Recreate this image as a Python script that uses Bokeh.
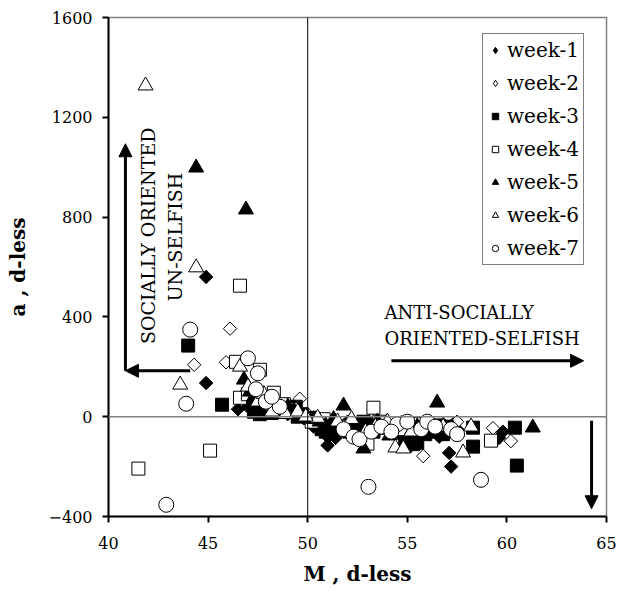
import math
from bokeh.plotting import figure
from bokeh.models import Range1d, Span, Arrow, NormalHead, Label, Legend, LegendItem, FixedTicker
from bokeh.embed import file_html
from bokeh.resources import INLINE

# ---- data ----
w1_x = [44.9, 44.9, 46.5, 47.3, 47.6, 48.2, 48.8, 49.2, 49.6, 50.2, 50.6, 51.0, 51.0, 51.5, 52.2, 52.8, 53.5, 54.3, 55.0, 56.0, 56.8, 57.1, 57.2, 57.3, 57.0, 59.6, 59.8,
        47.0, 47.4, 47.8, 48.0, 48.4, 48.6, 49.0, 49.4, 49.8, 50.0, 50.4, 50.8, 51.2, 51.6, 52.0, 52.5, 53.0, 53.8, 54.6, 55.3, 55.6, 56.3, 56.6, 57.5,
        47.2, 47.7, 48.3, 49.1, 50.3, 51.4]
w1_y = [560, 135, 30, 60, 20, 40, 25, 15, 5, -10, -25, -115, -80, -30, -40, -60, -45, -50, -40, -60, -30, -145, -200, -30, -70, -85, -60,
        40, 35, 55, 30, 20, 50, 10, 30, -5, 0, -20, -40, -60, -50, -20, -30, -50, -30, -70, -30, -60, -40, -80, -50,
        85, 75, 60, 45, -40, -85]

w2_x = [44.3, 45.9, 46.1, 49.6, 47.8, 48.5, 49.0, 50.5, 51.3, 52.0, 52.7, 53.5, 54.0, 55.8, 56.5, 59.3, 60.2, 57.5, 48.0, 50.0, 53.0, 54.8]
w2_y = [208, 218, 353, 72, 60, 40, 30, -10, -20, -30, -20, -40, -30, -158, -40, -46, -98, -20, 80, 10, -50, -60]

w3_x = [44.0, 45.7, 47.3, 47.6, 48.5, 49.0, 49.5, 50.3, 50.8, 50.9, 51.8, 52.5, 53.0, 54.9, 55.3, 55.5, 56.2, 56.8, 58.3, 58.3, 60.4, 60.5, 55.8, 56.5,
        47.2, 47.5, 47.9, 48.2, 48.7, 49.2, 49.7, 50.1, 50.5, 51.1, 51.4, 52.1, 52.8, 53.3, 53.7, 54.5, 55.0, 55.9, 56.4, 57.0,
        47.4, 48.0, 49.4, 50.7]
w3_y = [285, 48, 20, 10, 30, 20, 0, -15, -30, -60, -40, -50, -30, -116, -110, -104, -60, -70, -44, -120, -44, -196, -40, -50,
        50, 40, 25, 15, 45, 35, 10, -5, -30, -20, -55, -60, -20, -60, -45, -40, -80, -70, -35, -40,
        70, 60, 40, -50]

w4_x = [41.5, 45.1, 46.6, 46.4, 47.6, 48.3, 46.6, 47.8, 49.2, 50.8, 52.0, 53.3, 53.0, 53.6, 54.3, 55.5, 59.2, 47.0, 48.8, 50.2, 52.6, 54.8]
w4_y = [-208, -136, 525, 220, 188, 96, 76, 40, 30, -10, -40, 36, -108, -20, -40, -30, -96, 90, 50, -20, -60, -50]

w5_x = [44.4, 46.9, 46.8, 47.3, 47.8, 48.5, 49.0, 49.5, 50.0, 50.6, 51.0, 51.8, 52.3, 52.8, 53.5, 54.1, 55.5, 56.5, 57.0, 61.3,
        47.1, 47.6, 48.0, 48.3, 48.8, 49.3, 49.8, 50.3, 50.9, 51.3, 52.0, 52.6, 53.2, 53.9, 54.7, 55.2, 56.0, 56.9]
w5_y = [998, 830, 148, 80, 50, 20, 40, 10, -5, -20, -50, 44, -30, -128, -20, -76, -40, 56, -60, -44,
        100, 30, 70, 40, 15, 25, 0, -10, -35, -10, -50, -40, -50, -40, -30, -60, -30, -45]

w6_x = [41.86, 44.4, 43.6, 46.6, 47.0, 47.5, 48.2, 48.9, 49.5, 50.5, 51.5, 52.2, 53.4, 54.0, 54.4, 54.8, 55.6, 57.8, 58.2, 47.8, 49.9, 52.9, 55.2, 56.8]
w6_y = [1327, 598, 128, 200, 120, 60, 20, 10, 20, -5, -20, -10, -40, -20, -124, -128, -50, -144, -40, 90, 0, -60, -60, -40]

w7_x = [44.1, 43.9, 42.9, 47.0, 47.5, 47.4, 47.9, 48.6, 51.8, 52.3, 52.6, 53.05, 53.2, 54.5, 55.0, 55.7, 56.0, 56.4, 57.2, 57.5, 58.7,
        48.2, 53.7, 54.2]
w7_y = [349, 52, -353, 234, 174, 110, 60, 40, -50, -80, -90, -281, -60, -30, -20, -50, -20, -40, -50, -70, -253,
        80, -40, -60]

series_names = ["week-1", "week-2", "week-3", "week-4", "week-5", "week-6", "week-7"]
x_ticks = [40, 45, 50, 55, 60, 65]
y_ticks = [-400, 0, 400, 800, 1200, 1600]

FONT = "DejaVu Serif"

p = figure(width=618, height=594, output_backend="svg", toolbar_location=None,
           x_range=Range1d(40, 65), y_range=Range1d(-400, 1600),
           min_border_left=108, min_border_right=12, min_border_top=17, min_border_bottom=78)
p.grid.visible = False
p.outline_line_color = "#808080"
p.outline_line_width = 1.5
p.background_fill_color = "white"
p.border_fill_color = "white"

for ax in (p.xaxis[0], p.yaxis[0]):
    ax.axis_line_width = 2
    ax.axis_line_color = "black"
    ax.major_tick_out = 6
    ax.major_tick_in = 0
    ax.major_tick_line_width = 2
    ax.minor_tick_out = 0
    ax.minor_tick_in = 0
    ax.major_label_text_font = FONT
    ax.major_label_text_font_size = "16px"
    ax.major_label_text_color = "black"
    ax.axis_label_text_font = FONT
    ax.axis_label_text_font_size = "20px"
    ax.axis_label_text_font_style = "bold"
    ax.axis_label_text_color = "black"

p.xaxis[0].ticker = FixedTicker(ticks=x_ticks)
p.yaxis[0].ticker = FixedTicker(ticks=y_ticks)
p.xaxis[0].major_label_standoff = 14
p.yaxis[0].major_label_standoff = 10
p.xaxis[0].axis_label = "M , d-less"
p.yaxis[0].axis_label = "a , d-less"
p.xaxis[0].axis_label_standoff = 10
p.yaxis[0].axis_label_standoff = 16

# reference lines
p.add_layout(Span(location=0, dimension="width", line_color="#808080", line_width=1.5))
p.add_layout(Span(location=50, dimension="height", line_color="black", line_width=1))

renderers = []
legend_renderers = []
specs = [
    (w1_x, w1_y, "square", 9.5, "black", math.pi / 4, "diamond"),
    (w2_x, w2_y, "square", 9.5, "white", math.pi / 4, "diamond"),
    (w3_x, w3_y, "square", 13, "black", 0.0, None),
    (w4_x, w4_y, "square", 13, "white", 0.0, None),
    (w5_x, w5_y, "triangle", 15, "black", 0.0, None),
    (w6_x, w6_y, "triangle", 15, "white", 0.0, None),
    (w7_x, w7_y, "circle", 15, "white", 0.0, None),
]
for xs, ys, marker, size, fill, ang, legend_marker in specs:
    r = p.scatter(xs, ys, marker=marker, size=size, fill_color=fill, angle=ang,
                  line_color="black", line_width=1)
    renderers.append(r)
    if legend_marker is not None:
        # legend swatch only (placed outside the visible range)
        lr = p.scatter([1000], [10000], marker=legend_marker, size=15, fill_color=fill,
                       line_color="black", line_width=1)
        legend_renderers.append(lr)
    else:
        legend_renderers.append(r)

legend = Legend(items=[LegendItem(label=n, renderers=[r]) for n, r in zip(series_names, legend_renderers)],
                location=(374, 251))
legend.label_text_font = FONT
legend.label_text_font_size = "20px"
legend.label_text_color = "black"
legend.border_line_color = "black"
legend.border_line_width = 1
legend.background_fill_color = "white"
legend.background_fill_alpha = 1
legend.padding = 4
legend.spacing = 9
legend.glyph_width = 16
legend.glyph_height = 24
legend.label_height = 24
legend.label_standoff = 4
legend.margin = 0
p.add_layout(legend)

# arrows
def arrow(x0, y0, x1, y1):
    p.add_layout(Arrow(end=NormalHead(size=13, fill_color="black", line_color="black"),
                       x_start=x0, y_start=y0, x_end=x1, y_end=y1,
                       line_width=3, line_color="black"))

arrow(40.85, 184, 40.85, 1094)
arrow(44.1, 184, 40.85, 184)
arrow(54.2, 224, 63.85, 224)
arrow(64.25, -16, 64.25, -369)

# annotations
def label(x, y, text, angle=0.0, align="left", size="18px"):
    p.add_layout(Label(x=x, y=y, text=text, angle=angle, text_font=FONT,
                       text_font_size=size, text_color="black",
                       text_align=align, text_baseline="middle"))

label(42.0, 725, "SOCIALLY ORIENTED", angle=math.pi / 2, align="center", size="19px")
label(43.36, 720, "UN-SELFISH", angle=math.pi / 2, align="center", size="19px")
label(53.85, 417, "ANTI-SOCIALLY")
label(53.85, 313, "ORIENTED-SELFISH")

open("out.html", "w").write(file_html(p, INLINE))
